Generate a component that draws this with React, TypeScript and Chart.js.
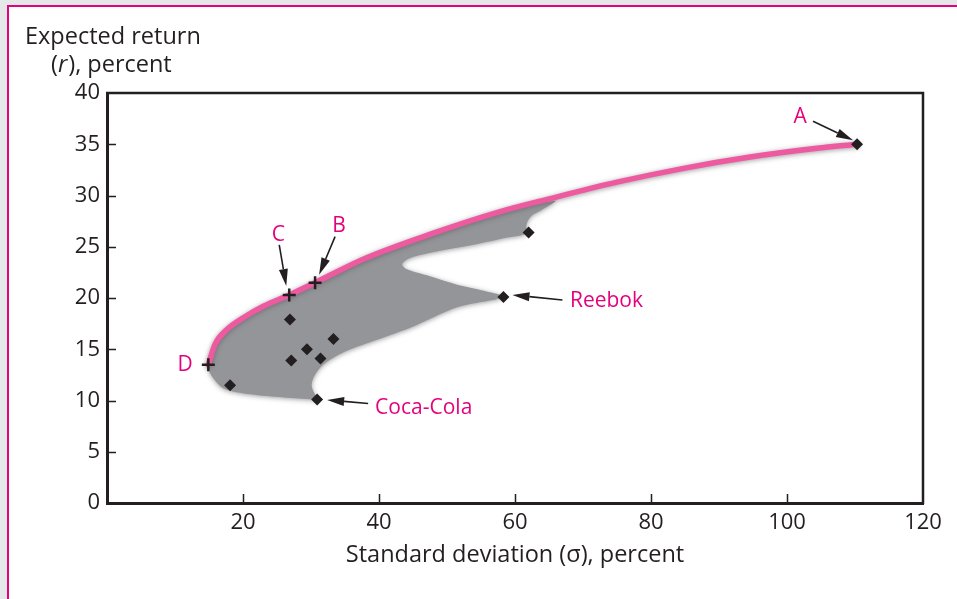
import React, { useEffect, useRef } from "react";
import { Chart, registerables } from "chart.js";

Chart.register(...registerables);

// ---------- data ----------
const xTickValues = [20, 40, 60, 80, 100, 120];
const yTickValues = [0, 5, 10, 15, 20, 25, 30, 35, 40];

// individual stocks (diamonds)
const stockNames = ["A", "", "Reebok", "", "", "", "", "", "Coca-Cola", ""];
const stockSigma = [110.3, 62.0, 58.3, 26.9, 33.3, 29.4, 27.1, 31.4, 30.9, 18.1];
const stockReturn = [35.0, 26.4, 20.1, 17.9, 16.0, 15.0, 13.9, 14.1, 10.1, 11.5];

// portfolios (crosses)
const portfolioNames = ["B", "C", "D"];
const portfolioSigma = [30.6, 26.8, 14.9];
const portfolioReturn = [21.5, 20.3, 13.5];

// efficient frontier (pink)
const frontierSigma = [14.9, 15.9, 17.6, 20.1, 23.0, 26.8, 30.6, 38.1, 47.9, 57.7, 65.2, 75.0, 84.8, 94.6, 104.4, 110.3];
const frontierReturn = [13.5, 15.5, 16.9, 18.1, 19.2, 20.3, 21.5, 23.9, 26.3, 28.4, 29.7, 31.3, 32.65, 33.75, 34.6, 35.0];

// outline of the feasible set (grey)
const regionSigma = [
  14.9, 15.2, 17.1, 21.1, 26.0, 30.4, 31.0, 30.1, 30.5, 31.8, 34.8, 39.2, 44.6, 51.5, 58.3,
  55.4, 51.5, 47.6, 44.1, 43.4, 44.6, 49.0, 53.9, 58.9, 61.6, 61.7, 62.4, 64.0, 66.0,
  57.7, 47.9, 38.1, 30.6, 26.8, 23.0, 20.1, 17.6, 15.9, 14.9,
];
const regionReturn = [
  13.5, 12.6, 11.2, 10.6, 10.3, 10.1, 10.0, 11.4, 12.4, 13.5, 14.7, 15.8, 17.1, 19.1, 20.1,
  20.7, 21.3, 22.1, 22.8, 23.3, 23.9, 24.6, 25.2, 25.9, 26.3, 27.2, 28.0, 28.6, 29.5,
  28.3, 26.2, 23.8, 21.4, 20.2, 19.1, 18.0, 16.8, 15.4, 13.5,
];

// ---------- styles ----------
const FONT = "'Open Sans', Lato, sans-serif";
const DARK = "#231f20";
const MAGENTA = "#e5007d";
const FRONTIER_PINK = "#ee5aa0";
const GREY = "#939598";
const TITLE_SIZE = 23.5;
const LABEL_SIZE = 21;

type Callout = {
  name: string;
  text: [number, number];
  align: CanvasTextAlign;
  arrow?: [number, number, number, number];
};

const callouts: Callout[] = [
  { name: "A", text: [-57, -21], align: "center", arrow: [-44, -23, -4, -4] },
  { name: "B", text: [24, -51], align: "center", arrow: [20, -46, 4, -8] },
  { name: "C", text: [-11, -54], align: "center", arrow: [-10, -50, -3, -9] },
  { name: "D", text: [-15.5, 6.5], align: "right" },
  { name: "Reebok", text: [66.5, 10.5], align: "left", arrow: [59, 3, 9, -2] },
  { name: "Coca-Cola", text: [58, 15], align: "left", arrow: [51, 4, 10, 0.5] },
];

function drawArrow(ctx: CanvasRenderingContext2D, x0: number, y0: number, x1: number, y1: number) {
  const ang = Math.atan2(y1 - y0, x1 - x0);
  const headLen = 17;
  const headHalf = 4.5;
  const bx = x1 - Math.cos(ang) * headLen;
  const by = y1 - Math.sin(ang) * headLen;
  ctx.beginPath();
  ctx.moveTo(x0, y0);
  ctx.lineTo(bx, by);
  ctx.strokeStyle = DARK;
  ctx.lineWidth = 1.6;
  ctx.stroke();
  ctx.beginPath();
  ctx.moveTo(x1, y1);
  ctx.lineTo(bx + Math.sin(ang) * headHalf, by - Math.cos(ang) * headHalf);
  ctx.lineTo(bx - Math.sin(ang) * headHalf, by + Math.cos(ang) * headHalf);
  ctx.closePath();
  ctx.fillStyle = DARK;
  ctx.fill();
}

const decorPlugin = {
  id: "decor",
  beforeDatasetsDraw(chart: any) {
    const ctx = chart.ctx;
    ctx.save();
    ctx.shadowColor = "rgba(80,80,85,0.55)";
    ctx.shadowBlur = 5;
    ctx.shadowOffsetY = 1;
  },
  afterDatasetDraw(chart: any, args: any) {
    if (args.index === 1) chart.ctx.restore();
  },
  afterDraw(chart: any) {
    const ctx: CanvasRenderingContext2D = chart.ctx;
    const { left, right, top, bottom } = chart.chartArea;
    const xs = chart.scales.x;
    const ys = chart.scales.y;
    ctx.save();
    // top and right frame
    ctx.strokeStyle = DARK;
    ctx.lineWidth = 2.5;
    ctx.beginPath();
    ctx.moveTo(left - 1, top);
    ctx.lineTo(right, top);
    ctx.lineTo(right, bottom + 1);
    ctx.stroke();
    // inward tick marks
    ctx.lineWidth = 1.5;
    ctx.beginPath();
    xTickValues.forEach((v) => {
      if (v >= 120) return;
      const px = Math.round(xs.getPixelForValue(v)) + 0.5;
      ctx.moveTo(px, bottom);
      ctx.lineTo(px, bottom - 9);
    });
    yTickValues.forEach((v) => {
      if (v <= 0 || v >= 40) return;
      const py = Math.round(ys.getPixelForValue(v)) + 0.5;
      ctx.moveTo(left, py);
      ctx.lineTo(left + 9, py);
    });
    ctx.stroke();

    // axis titles
    ctx.fillStyle = DARK;
    ctx.textBaseline = "alphabetic";
    ctx.font = `${TITLE_SIZE}px ${FONT}`;
    ctx.textAlign = "left";
    ctx.fillText("Expected return", 25, 43.5);
    let x = 51;
    const parts: [string, boolean][] = [["(", false], ["r", true], ["), percent", false]];
    parts.forEach(([t, it]) => {
      ctx.font = `${it ? "italic " : ""}${TITLE_SIZE}px ${FONT}`;
      ctx.fillText(t, x, 72);
      x += ctx.measureText(t).width + (it ? 1 : 0);
    });
    ctx.font = `${TITLE_SIZE}px ${FONT}`;
    ctx.textAlign = "center";
    ctx.fillText("Standard deviation (\u03c3), percent", (left + right) / 2, 561.5);

    // callouts
    const anchors: Record<string, [number, number]> = {};
    stockNames.forEach((n, i) => {
      if (n) anchors[n] = [xs.getPixelForValue(stockSigma[i]), ys.getPixelForValue(stockReturn[i])];
    });
    portfolioNames.forEach((n, i) => {
      anchors[n] = [xs.getPixelForValue(portfolioSigma[i]), ys.getPixelForValue(portfolioReturn[i])];
    });
    callouts.forEach((c) => {
      const a = anchors[c.name];
      if (!a) return;
      ctx.font = `${LABEL_SIZE}px ${FONT}`;
      ctx.fillStyle = MAGENTA;
      ctx.textAlign = c.align;
      ctx.textBaseline = "alphabetic";
      ctx.fillText(c.name, a[0] + c.text[0], a[1] + c.text[1]);
      if (c.arrow) {
        drawArrow(ctx, a[0] + c.arrow[0], a[1] + c.arrow[1], a[0] + c.arrow[2], a[1] + c.arrow[3]);
      }
    });
    ctx.restore();
  },
};

export default function App() {
  const ref = useRef<HTMLCanvasElement | null>(null);

  useEffect(() => {
    if (!ref.current) return;
    const chart = new Chart(ref.current, {
      type: "line",
      data: {
        datasets: [
          {
            label: "feasible set",
            data: regionSigma.map((s, i) => ({ x: s, y: regionReturn[i] })),
            showLine: true,
            fill: "shape",
            backgroundColor: GREY,
            borderColor: "transparent",
            borderWidth: 0,
            pointRadius: 0,
            tension: 0.3,
            order: 3,
          } as any,
          {
            label: "efficient frontier",
            data: frontierSigma.map((s, i) => ({ x: s, y: frontierReturn[i] })),
            showLine: true,
            fill: false,
            borderColor: FRONTIER_PINK,
            borderWidth: 5.5,
            borderCapStyle: "round",
            pointRadius: 0,
            cubicInterpolationMode: "monotone",
            order: 2,
          },
          {
            label: "stocks",
            data: stockSigma.map((s, i) => ({ x: s, y: stockReturn[i] })),
            showLine: false,
            pointStyle: "rectRot",
            pointRadius: 6,
            backgroundColor: DARK,
            borderColor: DARK,
            borderWidth: 0,
            order: 1,
          },
          {
            label: "portfolios",
            data: portfolioSigma.map((s, i) => ({ x: s, y: portfolioReturn[i] })),
            showLine: false,
            pointStyle: "cross",
            pointRadius: 6.5,
            borderColor: DARK,
            borderWidth: 2.5,
            order: 0,
          },
        ],
      },
      options: {
        responsive: false,
        animation: false,
        events: [],
        layout: { padding: { top: 93, right: 34, left: 0, bottom: 0 } },
        plugins: { legend: { display: false }, tooltip: { enabled: false } },
        scales: {
          x: {
            type: "linear",
            min: 0,
            max: 120,
            afterBuildTicks: (s: any) => {
              s.ticks = xTickValues.map((v) => ({ value: v }));
            },
            afterFit: (s: any) => {
              s.height = 96;
            },
            grid: { display: false, drawTicks: false },
            border: { display: true, color: DARK, width: 3 },
            ticks: { padding: 7, color: DARK, font: { family: FONT, size: 22 }, maxRotation: 0, autoSkip: false },
          },
          y: {
            type: "linear",
            min: 0,
            max: 40,
            afterBuildTicks: (s: any) => {
              s.ticks = yTickValues.map((v) => ({ value: v }));
            },
            afterFit: (s: any) => {
              s.width = 107;
            },
            grid: { display: false, drawTicks: false },
            border: { display: true, color: DARK, width: 3 },
            ticks: { padding: 7, color: DARK, font: { family: FONT, size: 22 }, autoSkip: false },
          },
        },
      },
      plugins: [decorPlugin],
    });
    return () => chart.destroy();
  }, []);

  return (
    <div style={{ position: "fixed", left: 0, top: 0, width: 957, height: 599, overflow: "hidden", background: "#e6e7e9" }}>
      <div
        style={{
          position: "absolute",
          left: 7,
          top: 5,
          width: 980,
          height: 640,
          border: `2px solid ${MAGENTA}`,
          background: "#ffffff",
        }}
      />
      <canvas ref={ref} width={957} height={599} style={{ position: "absolute", left: 0, top: 0, width: 957, height: 599 }} />
    </div>
  );
}
